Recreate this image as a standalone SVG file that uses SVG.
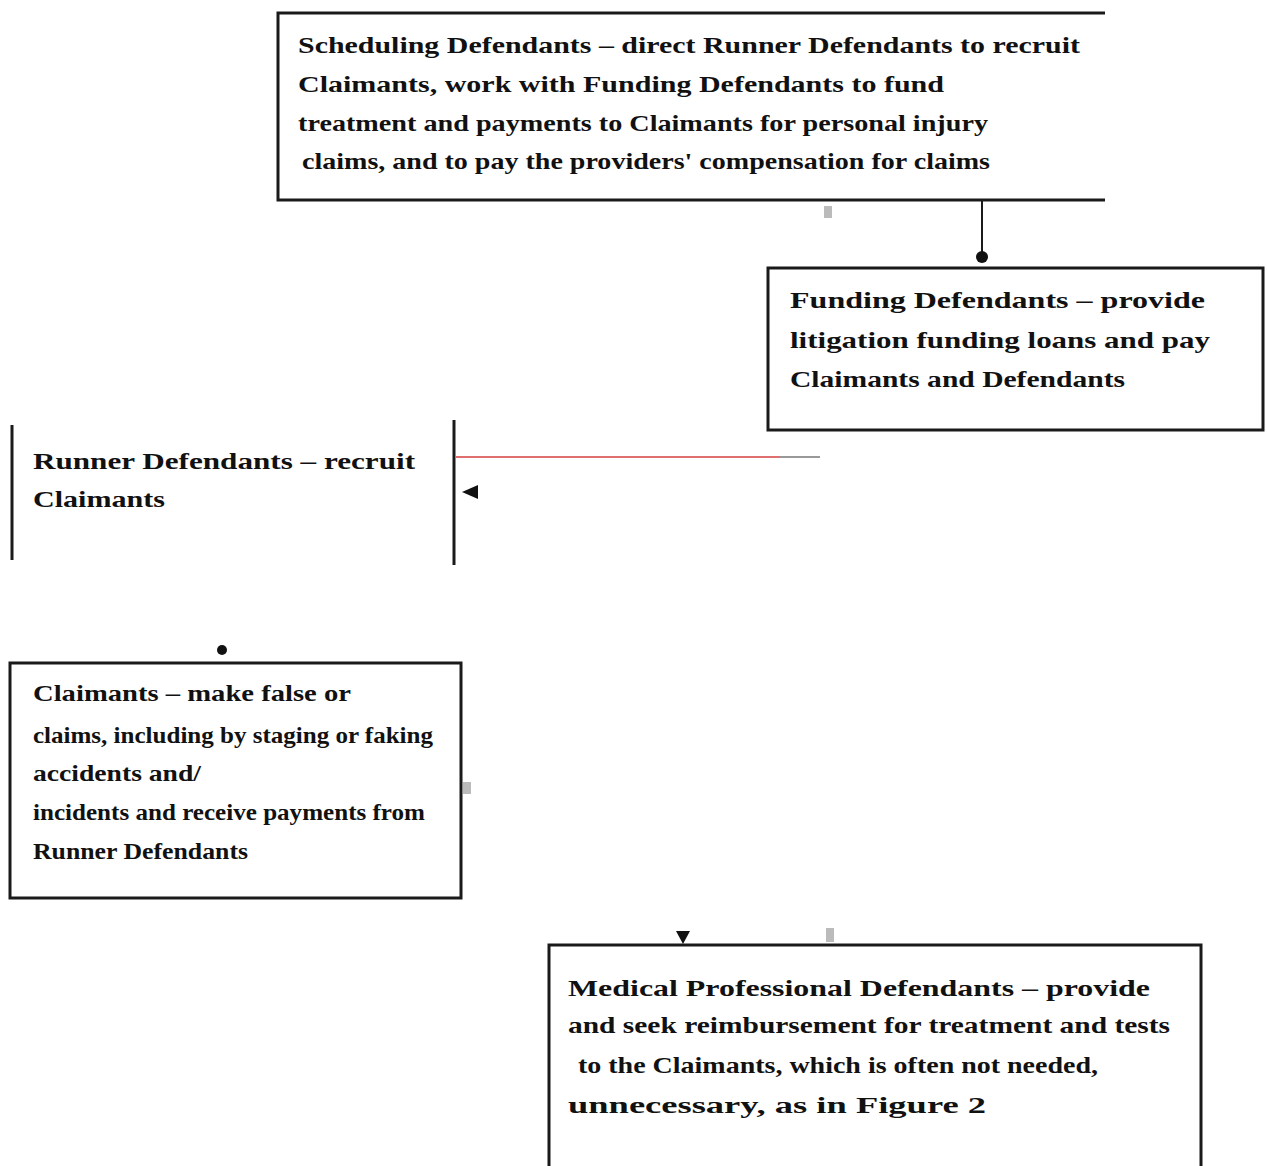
<svg xmlns="http://www.w3.org/2000/svg" width="1267" height="1166" viewBox="0 0 1267 1166">
<style>
.b{fill:none;stroke:#1a1a1a;stroke-width:3}
.t{font-family:"Liberation Serif","Times New Roman",serif;font-size:24px;font-weight:bold;fill:#111}
.c{stroke:#1a1a1a;stroke-width:2;fill:none}
.m{fill:#bbb}
</style>
<rect width="1267" height="1166" fill="#fff"/>
<g id="scheduling">
<path class="b" d="M1105 13 H278 V200 H1105"/>
<text class="t" x="298" y="53" textLength="782" lengthAdjust="spacingAndGlyphs">Scheduling Defendants – direct Runner Defendants to recruit</text>
<text class="t" x="298" y="92" textLength="646" lengthAdjust="spacingAndGlyphs">Claimants, work with Funding Defendants to fund</text>
<text class="t" x="298" y="131" textLength="690" lengthAdjust="spacingAndGlyphs">treatment and payments to Claimants for personal injury</text>
<text class="t" x="302" y="169" textLength="688" lengthAdjust="spacingAndGlyphs">claims, and to pay the providers' compensation for claims</text>
</g>
<g id="funding">
<rect class="b" x="768" y="268" width="495" height="162"/>
<text class="t" x="790" y="308" textLength="415" lengthAdjust="spacingAndGlyphs">Funding Defendants – provide</text>
<text class="t" x="790" y="348" textLength="420" lengthAdjust="spacingAndGlyphs">litigation funding loans and pay</text>
<text class="t" x="790" y="387" textLength="335" lengthAdjust="spacingAndGlyphs">Claimants and Defendants</text>
</g>
<g id="runner">
<line class="b" x1="12" y1="425" x2="12" y2="560"/>
<line class="b" x1="454" y1="420" x2="454" y2="565"/>
<text class="t" x="33" y="469" textLength="382" lengthAdjust="spacingAndGlyphs">Runner Defendants – recruit</text>
<text class="t" x="33" y="507" textLength="132" lengthAdjust="spacingAndGlyphs">Claimants</text>
</g>
<g id="claimants">
<rect class="b" x="10" y="663" width="451" height="235"/>
<text class="t" x="33" y="701" textLength="318" lengthAdjust="spacingAndGlyphs">Claimants – make false or</text>
<text class="t" x="33" y="743" textLength="400" lengthAdjust="spacingAndGlyphs">claims, including by staging or faking</text>
<text class="t" x="33" y="781" textLength="168" lengthAdjust="spacingAndGlyphs">accidents and/</text>
<text class="t" x="33" y="820" textLength="392" lengthAdjust="spacingAndGlyphs">incidents and receive payments from</text>
<text class="t" x="33" y="859" textLength="215" lengthAdjust="spacingAndGlyphs">Runner Defendants</text>
</g>
<g id="medical">
<path class="b" d="M549 1166 V945 H1201 V1166"/>
<text class="t" x="568" y="996" textLength="582" lengthAdjust="spacingAndGlyphs">Medical Professional Defendants – provide</text>
<text class="t" x="568" y="1033" textLength="602" lengthAdjust="spacingAndGlyphs">and seek reimbursement for treatment and tests</text>
<text class="t" x="578" y="1073" textLength="520" lengthAdjust="spacingAndGlyphs">to the Claimants, which is often not needed,</text>
<text class="t" x="568" y="1113" textLength="418" lengthAdjust="spacingAndGlyphs">unnecessary, as in Figure 2</text>
</g>
<g id="connectors">
<line class="c" x1="982" y1="200" x2="982" y2="262"/>
<circle cx="982" cy="257" r="6" fill="#111"/>
<line x1="820" y1="457" x2="456" y2="457" stroke="#e07070" stroke-width="2"/>
<line x1="820" y1="457" x2="780" y2="457" stroke="#999" stroke-width="2"/>
<polygon points="462,492 478,485 478,499" fill="#111"/>
<circle cx="222" cy="650" r="5" fill="#111"/>
<polygon points="676,931 690,931 683,944" fill="#111"/>
<rect class="m" x="826" y="928" width="8" height="14"/>
<rect class="m" x="824" y="206" width="8" height="12"/>
<rect class="m" x="463" y="782" width="8" height="12"/>
</g>
</svg>
